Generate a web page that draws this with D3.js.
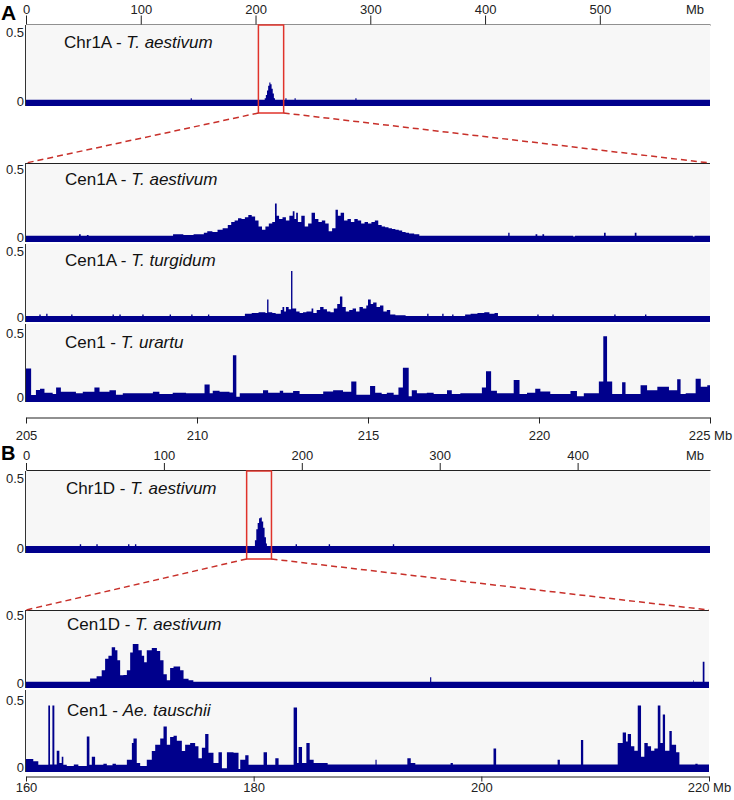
<!DOCTYPE html>
<html><head><meta charset="utf-8">
<script src="https://cdn.jsdelivr.net/npm/d3@7"></script>
<style>body{margin:0;background:#fff}svg{display:block;font-family:"Liberation Sans",Arial,sans-serif}</style>
</head><body><svg id="c" width="734" height="800"></svg>
<script>
// ---------------- DATA ----------------
const chr1ATicks = [0, 100, 200, 300, 400, 500];
const cen1ATicks = [205, 210, 215, 220, 225];
const chr1DTicks = [0, 100, 200, 300, 400];
const cen1DTicks = [160, 180, 200, 220];
const yTickValues = [0, 0.5];
const zoomA = [202.5, 224.5];
const zoomB = [160, 178];

// step series: [start position (Mb), value]
const chr1AAestivum = [[0,0.04],[143.5,0.05],[144.5,0.04],[208,0.05],[209,0.07],[210,0.1],[211,0.13],[212,0.15],[213,0.14],[214,0.11],[215,0.08],[216,0.05],[217,0.04],[226,0.05],[227,0.04],[234,0.05],[235,0.04],[287,0.05],[288,0.04],[596,0.04]];

const cen1AAestivum = [[205,0.04],[206.55,0.05],[206.6,0.04],[206.78,0.045],[206.83,0.04],[209.3,0.05],[209.6,0.045],[209.9,0.05],[210.2,0.06],[210.3,0.07],[210.45,0.065],[210.6,0.08],[210.75,0.09],[210.9,0.11],[211.0,0.13],[211.1,0.14],[211.2,0.155],[211.3,0.15],[211.4,0.16],[211.5,0.175],[211.6,0.165],[211.7,0.14],[211.8,0.1],[211.9,0.08],[212.0,0.1],[212.1,0.12],[212.2,0.13],[212.28,0.25],[212.33,0.17],[212.4,0.15],[212.5,0.16],[212.6,0.14],[212.7,0.17],[212.8,0.2],[212.85,0.15],[212.9,0.19],[212.95,0.13],[213.05,0.17],[213.15,0.1],[213.25,0.12],[213.35,0.19],[213.45,0.15],[213.55,0.13],[213.65,0.14],[213.75,0.12],[213.85,0.07],[213.95,0.09],[214.05,0.21],[214.12,0.17],[214.2,0.19],[214.3,0.14],[214.4,0.15],[214.5,0.13],[214.6,0.15],[214.7,0.14],[214.8,0.12],[214.9,0.13],[215.0,0.12],[215.1,0.13],[215.2,0.14],[215.3,0.11],[215.4,0.1],[215.5,0.095],[215.6,0.09],[215.7,0.085],[215.8,0.08],[215.9,0.075],[216.0,0.065],[216.1,0.06],[216.2,0.055],[216.35,0.05],[216.5,0.04],[219.1,0.06],[219.14,0.04],[219.9,0.05],[219.95,0.04],[220.1,0.05],[220.15,0.04],[221.0,0.035],[221.05,0.04],[221.9,0.06],[221.95,0.04],[222.8,0.06],[222.85,0.04],[224.5,0.035],[224.55,0.04],[225,0.04]];

const cen1ATurgidum = [[205,0.04],[205.39,0.05],[205.43,0.04],[205.59,0.055],[205.63,0.04],[206.32,0.05],[206.36,0.04],[207.53,0.05],[207.57,0.04],[207.73,0.05],[207.77,0.04],[208.4,0.05],[208.44,0.04],[209.2,0.05],[209.24,0.04],[209.83,0.05],[209.87,0.04],[210.32,0.05],[210.36,0.04],[211.4,0.055],[211.6,0.06],[211.8,0.065],[212.0,0.06],[212.05,0.15],[212.09,0.065],[212.2,0.06],[212.3,0.055],[212.45,0.08],[212.5,0.1],[212.55,0.07],[212.6,0.1],[212.68,0.085],[212.75,0.34],[212.79,0.09],[212.9,0.07],[213.0,0.06],[213.1,0.065],[213.2,0.07],[213.35,0.09],[213.4,0.06],[213.5,0.08],[213.6,0.1],[213.7,0.085],[213.8,0.07],[213.9,0.065],[214.0,0.09],[214.1,0.12],[214.18,0.17],[214.25,0.1],[214.35,0.07],[214.45,0.08],[214.55,0.09],[214.65,0.07],[214.75,0.1],[214.85,0.09],[214.95,0.11],[215.0,0.15],[215.08,0.12],[215.15,0.13],[215.25,0.1],[215.35,0.11],[215.45,0.07],[215.55,0.08],[215.65,0.05],[215.8,0.045],[216.1,0.04],[216.73,0.055],[216.77,0.04],[217.17,0.055],[217.21,0.04],[217.46,0.05],[217.5,0.04],[217.84,0.05],[218.0,0.055],[218.2,0.06],[218.4,0.065],[218.55,0.055],[218.7,0.06],[218.8,0.04],[219.95,0.05],[219.99,0.04],[220.39,0.05],[220.43,0.04],[222.2,0.05],[222.24,0.04],[223.1,0.05],[223.14,0.04],[225,0.04]];

const cen1Urartu = [[205.0,0.23],[205.15,0.048],[205.29,0.082],[205.41,0.09],[205.54,0.064],[205.78,0.055],[205.88,0.1],[206.02,0.07],[206.46,0.06],[206.66,0.07],[207.0,0.1],[207.15,0.07],[207.44,0.08],[207.63,0.05],[207.83,0.06],[208.71,0.07],[208.9,0.055],[209.29,0.064],[209.68,0.06],[210.07,0.06],[210.22,0.12],[210.37,0.06],[210.46,0.077],[210.66,0.07],[210.95,0.065],[211.05,0.32],[211.15,0.036],[211.25,0.06],[211.93,0.08],[212.08,0.064],[212.42,0.077],[212.52,0.064],[212.81,0.075],[213.0,0.055],[213.69,0.072],[213.98,0.08],[214.27,0.07],[214.51,0.14],[214.66,0.05],[214.95,0.05],[215.06,0.11],[215.21,0.064],[215.4,0.055],[215.55,0.064],[215.75,0.05],[215.89,0.1],[216.02,0.235],[216.19,0.04],[216.28,0.08],[216.43,0.06],[216.72,0.064],[216.92,0.055],[217.31,0.08],[217.45,0.055],[217.7,0.06],[218.33,0.1],[218.45,0.21],[218.6,0.077],[218.77,0.06],[219.26,0.15],[219.43,0.055],[219.65,0.064],[219.89,0.09],[220.04,0.072],[220.33,0.055],[220.92,0.075],[221.11,0.04],[221.31,0.06],[221.75,0.14],[221.88,0.45],[221.99,0.14],[222.14,0.055],[222.43,0.135],[222.53,0.055],[222.97,0.115],[223.16,0.08],[223.46,0.104],[223.8,0.08],[224.04,0.155],[224.14,0.055],[224.29,0.06],[224.58,0.16],[224.73,0.104],[224.92,0.115],[225,0.115]];

const chr1DAestivum = [[0,0.045],[39,0.055],[40,0.045],[51,0.055],[52,0.045],[74,0.055],[75,0.045],[79,0.055],[80,0.045],[166,0.08],[167,0.15],[168,0.19],[169,0.22],[170,0.225],[171,0.2],[172,0.16],[173,0.1],[174,0.06],[174.7,0.045],[195.5,0.055],[196.5,0.045],[219.5,0.055],[220.5,0.045],[266,0.055],[267,0.045],[496,0.045]];

const cen1DAestivum = [[160,0.04],[165.63,0.062],[166.2,0.077],[166.65,0.115],[166.95,0.19],[167.24,0.21],[167.53,0.265],[167.83,0.245],[168.03,0.18],[168.27,0.083],[168.56,0.085],[168.86,0.115],[169.15,0.23],[169.38,0.285],[169.88,0.245],[170.17,0.21],[170.38,0.168],[170.61,0.245],[171.05,0.26],[171.5,0.24],[171.79,0.18],[172.08,0.09],[172.37,0.05],[172.66,0.13],[172.96,0.14],[173.54,0.115],[173.84,0.06],[174.28,0.05],[174.7,0.04],[195.5,0.07],[195.6,0.04],[218.6,0.05],[218.65,0.04],[219.45,0.17],[219.6,0.04],[220,0.04]];

const cen1Tauschii = [[160,0.086],[160.64,0.07],[161.08,0.047],[161.96,0.437],[162.11,0.05],[162.32,0.437],[162.49,0.05],[162.7,0.14],[162.93,0.06],[163.14,0.1],[163.28,0.047],[163.58,0.04],[164.2,0.05],[164.6,0.04],[165.34,0.234],[165.57,0.047],[165.78,0.1],[166.07,0.047],[166.8,0.055],[167.1,0.045],[167.6,0.055],[167.9,0.047],[168.86,0.08],[169.3,0.19],[169.44,0.22],[169.73,0.06],[170.03,0.04],[170.61,0.08],[171.05,0.138],[171.35,0.18],[171.79,0.22],[172.08,0.3],[172.37,0.18],[172.66,0.23],[172.96,0.238],[173.25,0.205],[173.69,0.138],[173.98,0.18],[174.42,0.19],[174.86,0.17],[175.15,0.09],[175.45,0.16],[175.74,0.25],[176.03,0.126],[176.47,0.06],[176.91,0.13],[177.21,0.025],[177.65,0.13],[178.23,0.126],[178.67,0.02],[178.82,0.08],[179.26,0.11],[179.55,0.047],[180.87,0.13],[181.17,0.047],[181.9,0.09],[182.19,0.047],[183.51,0.424],[183.81,0.06],[183.95,0.165],[184.25,0.06],[184.63,0.19],[184.92,0.08],[185.27,0.06],[186.5,0.05],[190.7,0.08],[190.8,0.05],[193.5,0.09],[193.8,0.06],[194.2,0.05],[197.3,0.06],[197.5,0.05],[200.1,0.05],[201.07,0.155],[201.3,0.05],[206.7,0.08],[206.9,0.05],[208.75,0.21],[208.95,0.05],[211.98,0.19],[212.42,0.26],[212.71,0.2],[212.86,0.25],[213.15,0.17],[213.44,0.14],[213.74,0.437],[214.03,0.1],[214.32,0.19],[214.62,0.17],[214.91,0.14],[215.2,0.155],[215.5,0.437],[215.73,0.19],[215.94,0.378],[216.14,0.14],[216.52,0.27],[216.73,0.18],[217.11,0.13],[217.4,0.05],[218.8,0.055],[219.0,0.05],[220,0.05]];

// ---------------- DRAWING ----------------
const svg = d3.select("#c");
const L = 26, R = 710, RB = 709;
const BLUE = "#00008c", BG = "#f7f7f7", RED = "#e0332b", DRED = "#c8302a";

const xChrA = d3.scaleLinear().domain([0, 596]).range([L, R]);
const xCenA = d3.scaleLinear().domain([205, 225]).range([L, R]);
const xChrD = d3.scaleLinear().domain([0, 496]).range([L, R]);
const xCenD = d3.scaleLinear().domain([160, 220]).range([L, RB]);

function track(o) {
  const g = svg.append("g");
  const right = o.x.range()[1];
  g.append("rect").attr("x", L).attr("y", o.bgTop).attr("width", right - L)
    .attr("height", o.zeroY - o.bgTop).attr("fill", BG);
  const y = d3.scaleLinear().domain([0, 0.5]).range([o.zeroY, o.topY]);
  const area = d3.area().x(d => o.x(d[0])).y0(y(0)).y1(d => y(d[1])).curve(d3.curveStepAfter);
  g.append("path").datum(o.data).attr("d", area).attr("fill", BLUE);
  if (o.topLine) g.append("line").attr("x1", L).attr("x2", right).attr("y1", o.bgTop + 0.5).attr("y2", o.bgTop + 0.5)
    .attr("stroke", "#222").attr("stroke-width", 1.2);
  g.append("line").attr("x1", L - 0.5).attr("x2", L - 0.5).attr("y1", o.bgTop).attr("y2", o.zeroY)
    .attr("stroke", "#333").attr("stroke-width", 1);
  const ax = g.append("g").attr("transform", `translate(${L - 1},0)`)
    .call(d3.axisLeft(y).tickValues(yTickValues).tickSize(0).tickPadding(1).tickFormat(d => d === 0 ? "0" : "0.5"));
  ax.select(".domain").remove();
  ax.selectAll("text").attr("font-size", 13).attr("fill", "#222").attr("font-family", "Liberation Sans, Arial, sans-serif")
    .attr("dy", d => d === 0 ? "-0.05em" : "0.62em");
  const t = g.append("text").attr("x", o.lx).attr("y", o.ly).attr("font-size", 17).attr("fill", "#111");
  t.append("tspan").text(o.name + " - ");
  t.append("tspan").attr("font-style", "italic").text(o.species);
}

function styleAxis(sel) {
  sel.selectAll("text").attr("font-size", 13).attr("fill", "#222").attr("font-family", "Liberation Sans, Arial, sans-serif");
  sel.selectAll("line").attr("stroke", "#222");
  sel.select(".domain").attr("stroke", "#222").attr("stroke-width", 1.2);
}

// ===== Panel A =====
svg.append("text").attr("x", 1).attr("y", 20).attr("font-size", 21).attr("font-weight", "bold").attr("fill", "#000").text("A");
svg.append("g").attr("transform", "translate(0,24.5)")
  .call(d3.axisTop(xChrA).tickValues(chr1ATicks).tickSize(9).tickPadding(2).tickSizeOuter(0)).call(styleAxis);
svg.append("text").attr("x", 695).attr("y", 13.5).attr("text-anchor", "middle").attr("font-size", 13).attr("fill", "#222").text("Mb");

track({x: xChrA, data: chr1AAestivum, bgTop: 25, zeroY: 106, topY: 28, name: "Chr1A", species: "T. aestivum", lx: 64, ly: 48});
track({x: xCenA, data: cen1AAestivum, bgTop: 163, zeroY: 242, topY: 165, name: "Cen1A", species: "T. aestivum", lx: 65, ly: 185, topLine: true});
track({x: xCenA, data: cen1ATurgidum, bgTop: 244, zeroY: 322, topY: 247, name: "Cen1A", species: "T. turgidum", lx: 65, ly: 266});
track({x: xCenA, data: cen1Urartu, bgTop: 324, zeroY: 402, topY: 329, name: "Cen1", species: "T. urartu", lx: 65, ly: 348});

svg.append("g").attr("transform", "translate(0,417.5)")
  .call(d3.axisBottom(xCenA).tickValues(cen1ATicks).tickSize(6).tickPadding(7).tickSizeOuter(0)
    .tickFormat(d => d === 225 ? "225 Mb" : d)).call(styleAxis);

// zoom box A
const boxA = svg.append("g");
boxA.append("rect").attr("x", xChrA(zoomA[0])).attr("y", 25).attr("width", xChrA(zoomA[1]) - xChrA(zoomA[0]))
  .attr("height", 88).attr("fill", "none").attr("stroke", RED).attr("stroke-width", 1.5);
boxA.append("line").attr("x1", xChrA(zoomA[0])).attr("y1", 113).attr("x2", L).attr("y2", 163)
  .attr("stroke", DRED).attr("stroke-width", 1.5).attr("stroke-dasharray", "6,4");
boxA.append("line").attr("x1", xChrA(zoomA[1])).attr("y1", 113).attr("x2", R).attr("y2", 163)
  .attr("stroke", DRED).attr("stroke-width", 1.5).attr("stroke-dasharray", "6,4");

// ===== Panel B =====
svg.append("text").attr("x", 1).attr("y", 460).attr("font-size", 20).attr("font-weight", "bold").attr("fill", "#000").text("B");
svg.append("g").attr("transform", "translate(0,470)")
  .call(d3.axisTop(xChrD).tickValues(chr1DTicks).tickSize(7).tickPadding(3).tickSizeOuter(0)).call(styleAxis);
svg.append("text").attr("x", 695).attr("y", 460).attr("text-anchor", "middle").attr("font-size", 13).attr("fill", "#222").text("Mb");

track({x: xChrD, data: chr1DAestivum, bgTop: 471, zeroY: 553, topY: 474, name: "Chr1D", species: "T. aestivum", lx: 66, ly: 494});
track({x: xCenD, data: cen1DAestivum, bgTop: 610, zeroY: 688, topY: 611, name: "Cen1D", species: "T. aestivum", lx: 67, ly: 630, topLine: true});
track({x: xCenD, data: cen1Tauschii, bgTop: 690, zeroY: 772, topY: 696, name: "Cen1", species: "Ae. tauschii", lx: 67, ly: 716});

svg.append("g").attr("transform", "translate(0,776.5)")
  .call(d3.axisBottom(xCenD).tickValues(cen1DTicks).tickSize(5).tickPadding(1).tickSizeOuter(0)
    .tickFormat(d => d === 220 ? "220 Mb" : d)).call(styleAxis);

const boxB = svg.append("g");
boxB.append("rect").attr("x", xChrD(zoomB[0])).attr("y", 471).attr("width", xChrD(zoomB[1]) - xChrD(zoomB[0]))
  .attr("height", 88).attr("fill", "none").attr("stroke", RED).attr("stroke-width", 1.5);
boxB.append("line").attr("x1", xChrD(zoomB[0])).attr("y1", 559).attr("x2", L).attr("y2", 610)
  .attr("stroke", DRED).attr("stroke-width", 1.5).attr("stroke-dasharray", "6,4");
boxB.append("line").attr("x1", xChrD(zoomB[1])).attr("y1", 559).attr("x2", RB).attr("y2", 610)
  .attr("stroke", DRED).attr("stroke-width", 1.5).attr("stroke-dasharray", "6,4");
</script></body></html>
